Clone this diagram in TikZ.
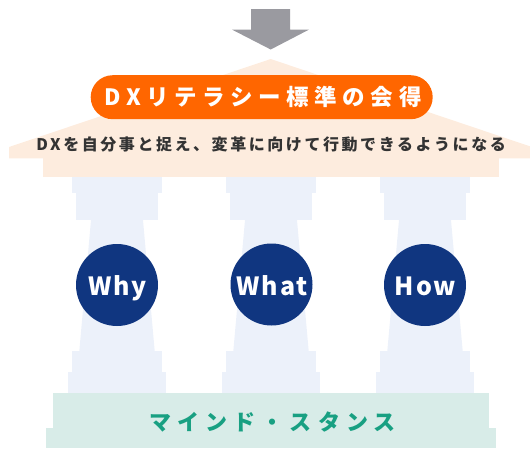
\documentclass[tikz,border=0pt]{standalone}
\usepackage{fontspec}
\setmainfont{Noto Sans CJK JP}
\newfontfamily\pillfont{Noto Sans CJK JP}[LetterSpace=25]
\newfontfamily\subfont{Noto Sans CJK JP}[LetterSpace=16]
\newfontfamily\circfont{Noto Sans CJK JP}[LetterSpace=8]
\newfontfamily\basefont{Noto Sans CJK JP}[LetterSpace=28]
\definecolor{arrowgrey}{RGB}{154,154,160}
\definecolor{roofpeach}{RGB}{253,236,222}
\definecolor{colblue}{RGB}{236,241,250}
\definecolor{basemint}{RGB}{216,236,232}
\definecolor{navy}{RGB}{16,54,128}
\definecolor{pillorange}{RGB}{255,102,0}
\definecolor{tealtext}{RGB}{24,160,130}
\definecolor{subgrey}{RGB}{51,51,51}
\tikzset{
  pillbox/.style={fill=pillorange, rounded corners=22pt, minimum width=342pt, minimum height=44pt, inner sep=0pt, text=white, font=\pillfont\bfseries\fontsize{22.5}{24}\selectfont},
  subtext/.style={text=subgrey, inner sep=0pt, font=\subfont\bfseries\fontsize{16}{18}\selectfont},
  circ/.style={circle, fill=navy, minimum size=82pt, inner sep=0pt, text=white, text height=18pt, text depth=0pt, font=\circfont\bfseries\fontsize{25}{27}\selectfont},
  basetext/.style={text=tealtext, inner sep=0pt, font=\basefont\bfseries\fontsize{22}{24}\selectfont}
}
\begin{document}
\begin{tikzpicture}[x=1pt,y=-1pt]
\useasboundingbox (0,0) rectangle (530,448);
% arrow
\fill[arrowgrey] (251,9) -- (290,9) -- (290,29.6) -- (309,29.6) -- (270.7,49.5) -- (232,29.6) -- (251,29.6) -- cycle;
% roof
\fill[roofpeach] (270.7,59) -- (9,147) -- (9,158.3) -- (532,158.3) -- (532,147) -- cycle;
\fill[roofpeach] (42.7,158) rectangle (499.3,176.7);
% pillars
\foreach \cx in {117,271,425}{
  \fill[colblue] (\cx-45,176.7) rectangle (\cx+45,193.3);
  \fill[colblue] (\cx-40.7,193) rectangle (\cx+40.7,220.2);
  \fill[colblue] (\cx-26,220) -- (\cx+26,220) -- (\cx+37.7,351) -- (\cx-37.7,351) -- cycle;
  \fill[colblue] (\cx-45,350.7) rectangle (\cx+45,372.2);
  \fill[colblue] (\cx-49,372) rectangle (\cx+49,393.5);
}
% base
\fill[basemint] (53,393.3) rectangle (489,428);
\fill[basemint] (46,427.7) rectangle (496,448);
% texts
\node[pillbox] (pill) at (261.7,97.2) {\hspace*{2.9pt}DXリテラシー標準の会得};
\node[subtext] (sub) at (270.5,144.5) {\hspace*{1.3pt}DXを自分事と捉え、変革に向けて行動できるようになる};
\node[circ] (why) at (117,285) {\raisebox{-1.6pt}{\hspace*{1pt}Why}};
\node[circ] (what) at (271.5,284.5) {\raisebox{-1.6pt}{\hspace*{1pt}What}};
\node[circ] (how) at (425,285) {\raisebox{-1.6pt}{\hspace*{1pt}How}};
\node[basetext] (base) at (271,421.5) {\hspace*{3pt}マインド・スタンス};
\end{tikzpicture}
\end{document}
